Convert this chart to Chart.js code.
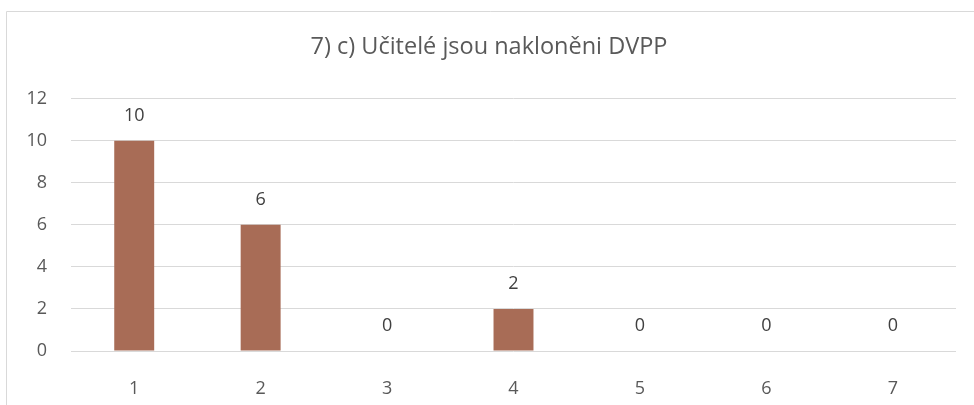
<!DOCTYPE html>
<html>
<head>
<meta charset="utf-8">
<script src="https://cdn.jsdelivr.net/npm/chart.js@4/dist/chart.umd.min.js"></script>
<style>
  html, body { margin: 0; padding: 0; background: #fff; }
  #wrap { position: relative; width: 974px; height: 405px; }
</style>
</head>
<body>
<div id="wrap"><canvas id="chart" width="974" height="405"></canvas></div>
<script>
const categories = ['1', '2', '3', '4', '5', '6', '7'];
const values = [10, 6, 0, 2, 0, 0, 0];
const yTicks = [0, 2, 4, 6, 8, 10, 12];
const chartTitle = '7) c) Učitelé jsou nakloněni DVPP';

const FONT = "'Open Sans', sans-serif";

// frame of the chart (only top and left edges fall inside the window)
const framePlugin = {
    id: 'frame',
    beforeDraw(chart) {
        const ctx = chart.ctx;
        ctx.save();
        ctx.strokeStyle = '#d9d9d9';
        ctx.lineWidth = 1;
        ctx.beginPath();
        ctx.moveTo(6.5, 405);
        ctx.lineTo(6.5, 11.5);
        ctx.lineTo(974, 11.5);
        ctx.stroke();
        ctx.restore();
    }
};

// value labels above the bars
const valueLabels = {
    id: 'valueLabels',
    afterDatasetsDraw(chart) {
        const ctx = chart.ctx;
        const meta = chart.getDatasetMeta(0);
        ctx.save();
        ctx.font = '18px ' + FONT;
        ctx.fillStyle = '#404040';
        ctx.textAlign = 'center';
        ctx.textBaseline = 'middle';
        meta.data.forEach((bar, i) => {
            ctx.fillText(String(values[i]), bar.x, bar.y - 25);
        });
        ctx.restore();
    }
};

chart = new Chart(document.getElementById('chart'), {

    type: 'bar',

    data: {
        labels: categories,
        datasets: [{
            data: values,
            backgroundColor: '#a86c56',
            categoryPercentage: 1,
            barPercentage: 0.316
        }]
    },

    options: {
        responsive: false,
        animation: false,
        layout: {
            padding: { left: 22, right: 18, top: 0, bottom: 0 }
        },
        plugins: {
            legend: { display: false },
            tooltip: { enabled: false },
            title: {
                display: true,
                text: chartTitle,
                color: '#595959',
                font: { family: FONT, size: 23.5, weight: 'normal' },
                padding: { top: 33, bottom: 37.5 }
            }
        },
        scales: {
            x: {
                grid: { display: false },
                border: { display: false },
                ticks: {
                    color: '#595959',
                    font: { family: FONT, size: 18 },
                    padding: 19
                },
                afterFit(scale) { scale.height = 54; }
            },
            y: {
                min: 0,
                max: 12,
                afterBuildTicks(scale) {
                    scale.ticks = yTicks.map(v => ({ value: v }));
                },
                grid: { color: '#d9d9d9', lineWidth: 1, drawTicks: false },
                border: { display: false },
                ticks: {
                    color: '#595959',
                    font: { family: FONT, size: 18 },
                    padding: 24
                },
                afterFit(scale) { scale.width = 49; }
            }
        }
    },

    plugins: [framePlugin, valueLabels]
});
</script>
</body>
</html>
